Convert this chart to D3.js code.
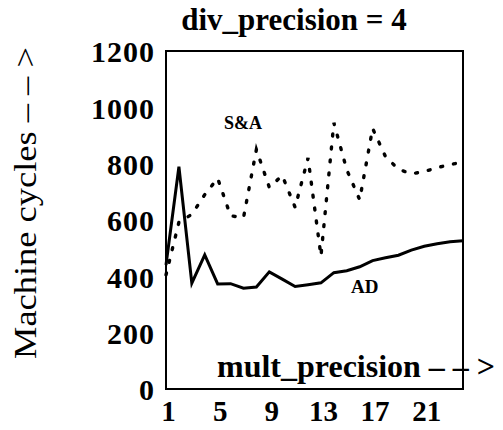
<!DOCTYPE html>
<html>
<head>
<meta charset="UTF-8">
<title>div_precision = 4</title>
<script src="https://d3js.org/d3.v7.min.js"></script>
<style>
  body { margin: 0; background: #fff; }
  text { font-family: "Liberation Serif", "DejaVu Serif", serif; fill: #000; }
</style>
</head>
<body>
<div id="chart"></div>
<script>
// mult_precision values on the x axis
var multPrecision = [1, 2, 3, 4, 5, 6, 7, 8, 9, 10, 11, 12, 13, 14, 15, 16, 17, 18, 19, 20, 21, 22, 23, 24];

// machine cycles
var adCycles = [440, 789, 376, 476, 373, 374, 358, 362, 416, 390, 364, 370, 377, 413, 420, 434, 456, 466, 475, 493, 507, 516, 523, 526];
var saCycles = [405, 592, 620, 690, 748, 615, 608, 850, 716, 758, 645, 820, 472, 945, 778, 672, 925, 825, 780, 764, 772, 786, 797, 805];

var xTicks = [1, 5, 9, 13, 17, 21];
var yTicks = [0, 200, 400, 600, 800, 1000, 1200];

var width = 503, height = 430;
var margin = { top: 51, right: 40, bottom: 41, left: 166 };

var svg = d3.select("#chart")
    .append("svg")
    .attr("width", width)
    .attr("height", height);

var x = d3.scaleLinear()
    .domain([1, 24])
    .range([margin.left, width - margin.right]);

var y = d3.scaleLinear()
    .domain([0, 1200])
    .range([height - margin.bottom, margin.top]);

// tick labels
var xAxis = svg.append("g")
    .attr("transform", "translate(0," + (height - margin.bottom) + ")")
    .call(d3.axisBottom(x).tickValues(xTicks).tickSize(0).tickPadding(11));
xAxis.select(".domain").remove();
xAxis.selectAll("text")
    .attr("dx", "2")
    .style("font-size", "29px")
    .style("font-weight", "bold")
    .style("font-family", "Liberation Serif");

var yAxis = svg.append("g")
    .attr("transform", "translate(" + margin.left + ",0)")
    .call(d3.axisLeft(y).tickValues(yTicks).tickFormat(d3.format("d")).tickSize(0).tickPadding(11));
yAxis.select(".domain").remove();
yAxis.selectAll("text")
    .attr("dy", "0.36em")
    .style("font-size", "30px")
    .style("font-weight", "bold")
    .style("letter-spacing", "1px")
    .style("font-family", "Liberation Serif");

// lines
var line = d3.line()
    .x(function (d, i) { return x(multPrecision[i]); })
    .y(function (d) { return y(d); });

svg.append("path")
    .datum(adCycles)
    .attr("d", line)
    .attr("fill", "none")
    .attr("stroke", "#000")
    .attr("stroke-width", 3)
    .attr("stroke-linejoin", "miter");

svg.append("path")
    .datum(saCycles)
    .attr("d", line)
    .attr("fill", "none")
    .attr("stroke", "#000")
    .attr("stroke-width", 3.4)
    .attr("stroke-dasharray", "2,11")
    .attr("stroke-linecap", "round");

// frame
svg.append("rect")
    .attr("x", margin.left)
    .attr("y", margin.top)
    .attr("width", width - margin.left - margin.right)
    .attr("height", height - margin.top - margin.bottom)
    .attr("fill", "none")
    .attr("stroke", "#000")
    .attr("stroke-width", 2);

// series labels
svg.append("text")
    .attr("x", 224)
    .attr("y", 129)
    .style("font-size", "18px")
    .style("font-weight", "bold")
    .text("S&A");

svg.append("text")
    .attr("x", 351)
    .attr("y", 293)
    .style("font-size", "19px")
    .style("font-weight", "bold")
    .text("AD");

// title
svg.append("text")
    .attr("x", 294)
    .attr("y", 30)
    .attr("text-anchor", "middle")
    .style("font-size", "31px")
    .style("font-weight", "bold")
    .text("div_precision = 4");

// axis titles
svg.append("text")
    .attr("x", 217)
    .attr("y", 377)
    .style("font-size", "32px")
    .style("font-weight", "bold")
    .text("mult_precision \u2013 \u2013 >");

svg.append("text")
    .attr("transform", "translate(36,203) rotate(-90)")
    .attr("text-anchor", "middle")
    .attr("textLength", 312)
    .attr("lengthAdjust", "spacingAndGlyphs")
    .style("font-size", "32px")
    .text("Machine cycles \u2013 \u2013 >");
</script>
</body>
</html>
